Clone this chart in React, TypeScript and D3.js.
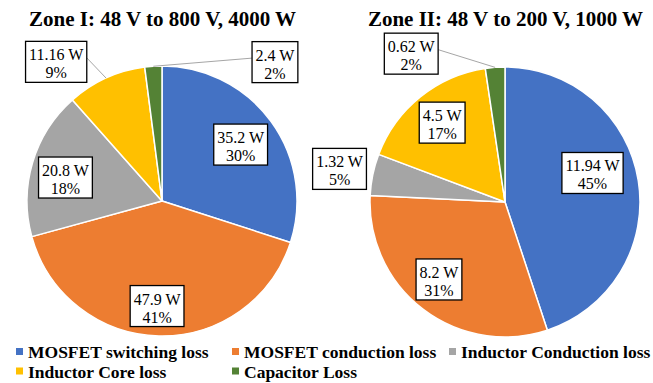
import React, { useEffect, useRef } from "react";
import * as d3 from "d3";

const categories = [
  "MOSFET switching loss",
  "MOSFET conduction loss",
  "Inductor Conduction loss",
  "Inductor Core loss",
  "Capacitor Loss",
];
const sliceColors = ["#4472C4", "#ED7D31", "#A5A5A5", "#FFC000", "#548235"];

const zoneTitles = ["Zone I: 48 V to 800 V, 4000 W", "Zone II: 48 V to 200 V, 1000 W"];
const zone1Watts = [35.2, 47.9, 20.8, 11.16, 2.4];
const zone1Pct = [30, 41, 18, 9, 2];
const zone2Watts = [11.94, 8.2, 1.32, 4.5, 0.62];
const zone2Pct = [45, 31, 5, 17, 2];

// label placement: radial factor and angular nudge (deg) from slice mid-angle
const zone1LabelLayout = [
  { k: 0.717, delta: 0.4, leader: false },
  { k: 0.779, delta: 1.4, leader: false },
  { k: 0.736, delta: -2.9, leader: false },
  { k: 1.295, delta: -12.8, leader: true },
  { k: 1.326, delta: 42.8, leader: true },
];
const zone2LabelLayout = [
  { k: 0.683, delta: -9.2, leader: false },
  { k: 0.754, delta: 3.2, leader: false },
  { k: 1.25, delta: -0.4, leader: false },
  { k: 0.75, delta: 0.5, leader: false },
  { k: 1.3, delta: -28.1, leader: true },
];

const WIDTH = 653;
const HEIGHT = 383;
const SERIF = "'Liberation Serif', 'Times New Roman', serif";

export default function App() {
  const ref = useRef<SVGSVGElement | null>(null);

  useEffect(() => {
    const svg = d3.select(ref.current);
    svg.selectAll("*").remove();

    const radius = 135;
    const zones = [
      { title: zoneTitles[0], watts: zone1Watts, pct: zone1Pct, layout: zone1LabelLayout, cx: 162, cy: 201, titleX: 162.5 },
      { title: zoneTitles[1], watts: zone2Watts, pct: zone2Pct, layout: zone2LabelLayout, cx: 505, cy: 202, titleX: 505.5 },
    ];

    const pie = d3
      .pie<number>()
      .sort(null)
      .value((d) => d)
      .startAngle(0)
      .endAngle(2 * Math.PI);
    const arc = d3.arc<d3.PieArcDatum<number>>().innerRadius(0).outerRadius(radius);

    zones.forEach((z) => {
      svg
        .append("text")
        .attr("x", z.titleX)
        .attr("y", 26)
        .attr("text-anchor", "middle")
        .attr("font-family", SERIF)
        .attr("font-weight", "bold")
        .attr("font-size", 21)
        .attr("fill", "#000")
        .text(z.title);

      const g = svg.append("g").attr("transform", `translate(${z.cx},${z.cy})`);
      const arcs = pie(z.watts);

      g.selectAll("path.slice")
        .data(arcs)
        .join("path")
        .attr("class", "slice")
        .attr("d", arc)
        .attr("fill", (_, i) => sliceColors[i])
        .attr("stroke", "#fff")
        .attr("stroke-width", 1.5)
        .attr("stroke-linejoin", "round");

      arcs.forEach((a, i) => {
        const lay = z.layout[i];
        const mid = (a.startAngle + a.endAngle) / 2;
        const ang = mid + (lay.delta * Math.PI) / 180;
        const lx = lay.k * radius * Math.sin(ang);
        const ly = -lay.k * radius * Math.cos(ang);

        const lg = g.append("g");
        const rect = lg.append("rect");
        const t1 = lg
          .append("text")
          .attr("x", lx)
          .attr("y", ly - 20.5 + 19)
          .attr("text-anchor", "middle")
          .attr("font-family", SERIF)
          .attr("font-size", 16)
          .attr("fill", "#000")
          .text(`${z.watts[i]} W`);
        const t2 = lg
          .append("text")
          .attr("x", lx)
          .attr("y", ly - 20.5 + 37)
          .attr("text-anchor", "middle")
          .attr("font-family", SERIF)
          .attr("font-size", 16)
          .attr("fill", "#000")
          .text(`${z.pct[i]}%`);
        const w1 = (t1.node() as SVGTextElement).getComputedTextLength();
        const w2 = (t2.node() as SVGTextElement).getComputedTextLength();
        const bw = Math.max(w1, w2) + 7;
        const bh = 41;
        rect
          .attr("x", lx - bw / 2)
          .attr("y", ly - bh / 2)
          .attr("width", bw)
          .attr("height", bh)
          .attr("fill", "#fff")
          .attr("stroke", "#000")
          .attr("stroke-width", 1.3);

        if (lay.leader) {
          const px = radius * Math.sin(mid);
          const py = -radius * Math.cos(mid);
          const ex = lx < px ? lx + bw / 2 : lx - bw / 2;
          const ey = ly - 4;
          g.insert("line", "g")
            .attr("x1", px)
            .attr("y1", py)
            .attr("x2", ex)
            .attr("y2", ey)
            .attr("stroke", "#A6A6A6")
            .attr("stroke-width", 1);
        }
      });
    });

    // legend
    const legendCols = [16, 232, 449];
    const legendRows = [358, 377.5];
    const legend = svg.append("g");
    categories.forEach((c, i) => {
      const col = i % 3;
      const row = Math.floor(i / 3);
      const x = legendCols[col];
      const y = legendRows[row];
      legend
        .append("rect")
        .attr("x", x)
        .attr("y", y - 10)
        .attr("width", 7)
        .attr("height", 7)
        .attr("fill", sliceColors[i]);
      legend
        .append("text")
        .attr("x", x + 12)
        .attr("y", y)
        .attr("font-family", SERIF)
        .attr("font-weight", "bold")
        .attr("font-size", 17.5)
        .attr("fill", "#000")
        .text(c);
    });
  }, []);

  return (
    <svg
      ref={ref}
      width={WIDTH}
      height={HEIGHT}
      style={{ position: "absolute", left: 0, top: 0, background: "#fff" }}
    />
  );
}
